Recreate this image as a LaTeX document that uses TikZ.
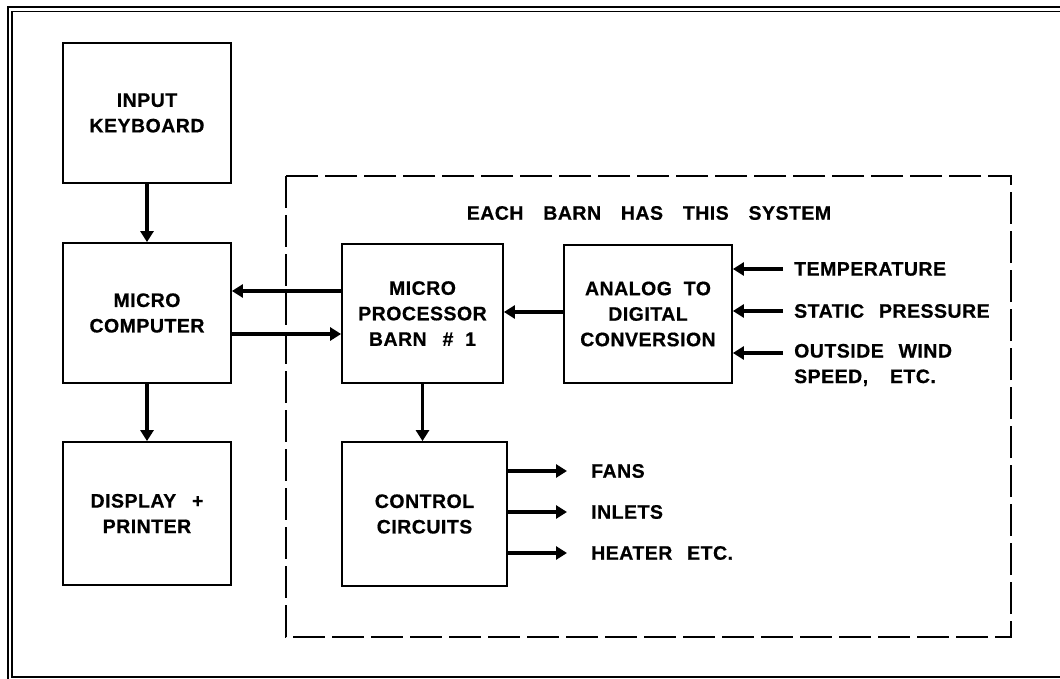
\documentclass[tikz,border=0pt]{standalone}
\usepackage{fontspec}
\setmainfont{Liberation Sans}[WordSpace=2,LetterSpace=2.5,BoldFeatures={FakeBold=0.6}]
\usetikzlibrary{arrows.meta}
\begin{document}
\begin{tikzpicture}[x=1pt,y=-1pt,
  blk/.style={draw,line width=1.8pt,minimum width=168pt,minimum height=140pt,align=center,inner sep=0pt},
  lbl/.style={anchor=west,inner sep=0pt,align=left},
  arr/.style={line width=3.6pt,-{Triangle[length=11pt,width=13pt]}},
  every node/.append style={font=\fontsize{19.5}{25.5}\selectfont\bfseries}]
\useasboundingbox (0,0) rectangle (1060,679);
% outer double frame
\draw[line width=2pt] (1070,7) -- (8,7) -- (8,690);
\draw[line width=1.5pt] (1070,11.5) -- (12,11.5) -- (12,677) -- (1070,677);
% dashed system box
\draw[line width=2pt,dash pattern=on 32pt off 7pt] (286,176) rectangle (1011,637);
\node (title) at (649,213) {EACH\hspace{8pt} BARN\hspace{8pt} HAS\hspace{8pt} THIS\hspace{8pt} SYSTEM};
% blocks
\node[blk] (kb) at (147,113) {INPUT\\KEYBOARD};
\node[blk] (mc) at (147,313) {MICRO\\COMPUTER};
\node[blk,minimum height=143pt] (dp) at (147,513.5) {DISPLAY\hspace{4pt} +\\PRINTER};
\node[blk,minimum width=161pt,minimum height=139pt] (mp) at (422.5,313.5) {MICRO\\PROCESSOR\\BARN\hspace{4pt} \# 1};
\node[blk,minimum height=138pt] (adc) at (648,314) {ANALOG TO\\DIGITAL\\CONVERSION};
\node[blk,minimum width=165pt,minimum height=144pt] (cc) at (424.5,514) {CONTROL\\CIRCUITS};
% left column arrows
\draw[arr] (kb.south) -- (mc.north);
\draw[arr] (mc.south) -- (dp.north);
% micro computer <-> micro processor
\draw[arr] (mp.west |- 0,291) -- (mc.east |- 0,291);
\draw[arr] (mc.east |- 0,334) -- (mp.west |- 0,334);
% ADC -> MP
\draw[arr] (adc.west |- 0,312) -- (mp.east |- 0,312);
% MP -> control
\draw[arr] (mp.south) -- (cc.north -| mp.south);
% sensor inputs
\node[lbl] (temp) at (794,269) {TEMPERATURE};
\node[lbl] (sp) at (794,311) {STATIC\hspace{3pt} PRESSURE};
\node[lbl] (ow) at (794,365) {OUTSIDE\hspace{3pt} WIND\\SPEED,\hspace{10pt} ETC.};
\coordinate (owin) at (783,353);
\draw[arr] ([xshift=-11pt]temp.west) -- (adc.east |- temp.west);
\draw[arr] ([xshift=-11pt]sp.west) -- (adc.east |- sp.west);
\draw[arr] (owin) -- (adc.east |- owin);
% outputs
\node[lbl] (fans) at (591,471) {FANS};
\node[lbl] (inl) at (591,512) {INLETS};
\node[lbl] (heat) at (591,553) {HEATER\hspace{3pt} ETC.};
\draw[arr] (cc.east |- fans.west) -- ([xshift=-24pt]fans.west);
\draw[arr] (cc.east |- inl.west) -- ([xshift=-24pt]inl.west);
\draw[arr] (cc.east |- heat.west) -- ([xshift=-24pt]heat.west);
\end{tikzpicture}
\end{document}
